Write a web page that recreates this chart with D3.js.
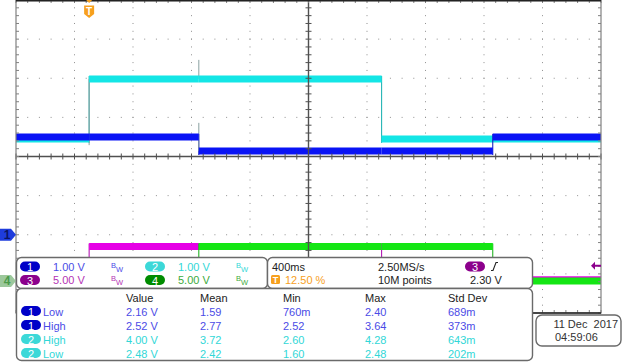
<!DOCTYPE html>
<html><head><meta charset="utf-8">
<script src="https://cdn.jsdelivr.net/npm/d3@7"></script>
<style>body{margin:0;background:#fff}svg{display:block}text{font-family:"Liberation Sans",Arial,sans-serif}</style>
</head><body><svg id="c" width="625" height="363"></svg>
<script>
// ---- data ----
const edgeTimes = [-0.5, 0, 0.75, 2.0, 2.76, 3.5];      // seconds
const ch1Levels = [2.50, 2.50, 2.14, 2.14, 2.50];       // volts per interval
const ch2Levels = [2.45, 3.98, 3.98, 2.45, 2.45];
const ch3Levels = [0.5, 4.75, 4.75, 0.5, 0.5];
const ch4Levels = [0.0, 0.0, 4.4, 4.4, 0.0];
const glitches = [{ch:2, t:0.75, v:4.47}, {ch:2, t:0, v:2.29}, {ch:1, t:0.75, v:2.86}];
const channels = ["1","2","3","4"];
const voltsPerDiv = [1, 1, 5, 5];
const offsetsDiv = [-2, -2, -3.25, -3.18];
const legendScales = ["1.00 V","1.00 V","5.00 V","5.00 V"];
const timebase = "400ms", sampleRate = "2.50MS/s", trigPos = "12.50 %", recLen = "10M points", trigLevel = "2.30 V", trigSrc = "3";
const trigLevelV = 2.30;
const measHeaders = ["Value","Mean","Min","Max","Std Dev"];
const measCh = ["1","1","2","2"];
const measNames = ["Low","High","High","Low"];
const measValue = ["2.16 V","2.52 V","4.00 V","2.48 V"];
const measMean = ["1.59","2.77","3.72","2.42"];
const measMin = ["760m","2.52","2.60","1.60"];
const measMax = ["2.40","3.64","4.28","2.48"];
const measStd = ["689m","373m","643m","202m"];
const dateText = ["11 Dec  2017", "04:59:06"];

// ---- styles ----
const traceColor = ["#0a14f5", "#14e6e6", "#e600e6", "#14e614"];
const badgeColor = ["#0000c8", "#3cd8d8", "#8c008c", "#008c00"];
const textColor = ["#4b4be6", "#32d7d7", "#b432b4", "#3caa3c"];
const bandW = [7, 7, 7, 7];
const orange = "#f7a01e";

const svg = d3.select("#c");
const L = 16, R = 601, T = 0, B = 313;
const x = d3.scaleLinear().domain([-0.5, 3.5]).range([L, R]);
const yd = d3.scaleLinear().domain([-4, 4]).range([B, T]);
const yv = (ci, v) => yd(v / voltsPerDiv[ci] + offsetsDiv[ci]);

// ---- grid ----
const majorT = d3.range(0, 11).map(i => -0.5 + i * 0.4);
const minorT = d3.range(0, 51).map(i => -0.5 + i * 0.08);
const majorD = d3.range(-4, 5);
const minorD = d3.range(0, 41).map(i => -4 + i * 0.2);
const grid = svg.append("g").attr("fill", "#909090");
majorD.filter(d => d > -4 && d < 4 && d !== 0).forEach(d => {
  grid.selectAll(null).data(minorT.slice(1, -1)).enter().append("rect")
    .attr("x", t => x(t) - 0.5).attr("y", yd(d) - 0.5).attr("width", 1).attr("height", 1);
});
majorT.slice(1, -1).filter((t, i) => i !== 4).forEach(t => {
  grid.selectAll(null).data(minorD.slice(1, -1)).enter().append("rect")
    .attr("x", x(t) - 0.5).attr("y", d => yd(d) - 0.5).attr("width", 1).attr("height", 1);
});

// ---- traces ----
const levels = [ch1Levels, ch2Levels, ch3Levels, ch4Levels];
svg.append("clipPath").attr("id", "pc").append("rect").attr("x", L).attr("y", T).attr("width", R - L).attr("height", B - T);
const tr = svg.append("g").attr("clip-path", "url(#pc)");
[2, 3, 1, 0].forEach(ci => {
  const lv = levels[ci];
  const g = tr.append("g");
  lv.forEach((v, i) => {
    if (i > 0 && lv[i - 1] !== v) {
      const y0 = yv(ci, lv[i - 1]), y1 = yv(ci, v);
      const lo = Math.min(y0, y1) - 3, hi = Math.max(y0, y1) + 4;
      g.append("line").attr("x1", x(edgeTimes[i])).attr("x2", x(edgeTimes[i]))
        .attr("y1", lo).attr("y2", hi).attr("stroke", d3.color(traceColor[ci]).darker(0.8)).attr("stroke-width", 1);
    }
  });
  glitches.filter(gl => gl.ch === ci + 1).forEach(gl => {
    const i = edgeTimes.findIndex(t => t >= gl.t);
    const base = yv(ci, lv[Math.max(0, Math.min(lv.length - 1, i))]);
    g.append("line").attr("x1", x(gl.t)).attr("x2", x(gl.t)).attr("y1", base).attr("y2", yv(ci, gl.v))
      .attr("stroke", "#8aa0a0").attr("stroke-width", 1);
  });
  g.selectAll(null).data(lv).enter().append("line")
    .attr("x1", (v, i) => x(edgeTimes[i])).attr("x2", (v, i) => x(edgeTimes[i + 1]))
    .attr("y1", v => yv(ci, v)).attr("y2", v => yv(ci, v))
    .attr("stroke", traceColor[ci]).attr("stroke-width", bandW[ci]);
});

// ---- axes / border ----
const ax = svg.append("g").attr("stroke", "#505050");
ax.append("line").attr("x1", L).attr("x2", R).attr("y1", yd(0)).attr("y2", yd(0)).attr("stroke-width", 1.4);
ax.append("line").attr("x1", x(1.5)).attr("x2", x(1.5)).attr("y1", T).attr("y2", B).attr("stroke-width", 1.4);
ax.selectAll(null).data(minorT).enter().append("line")
  .attr("x1", t => x(t)).attr("x2", t => x(t)).attr("y1", yd(0) - 3).attr("y2", yd(0) + 3).attr("stroke-width", 1);
ax.selectAll(null).data(minorD).enter().append("line")
  .attr("y1", d => yd(d)).attr("y2", d => yd(d)).attr("x1", x(1.5) - 3).attr("x2", x(1.5) + 3).attr("stroke-width", 1);
const bt = svg.append("g").attr("stroke", "#808080").attr("stroke-width", 1);
bt.selectAll(null).data(minorT).enter().append("line")
  .attr("x1", t => x(t)).attr("x2", t => x(t)).attr("y1", T).attr("y2", T + 3);
bt.selectAll(null).data(minorT).enter().append("line")
  .attr("x1", t => x(t)).attr("x2", t => x(t)).attr("y1", B).attr("y2", B - 3);
bt.selectAll(null).data(minorD).enter().append("line")
  .attr("y1", d => yd(d)).attr("y2", d => yd(d)).attr("x1", L).attr("x2", L + 3);
bt.selectAll(null).data(minorD).enter().append("line")
  .attr("y1", d => yd(d)).attr("y2", d => yd(d)).attr("x1", R).attr("x2", R - 3);
svg.append("rect").attr("x", L).attr("y", T + 0.5).attr("width", R - L).attr("height", B - T - 0.5)
  .attr("fill", "none").attr("stroke", "#808080").attr("stroke-width", 1.2);
svg.append("line").attr("x1", L).attr("x2", R).attr("y1", 0.75).attr("y2", 0.75).attr("stroke", "#222").attr("stroke-width", 1.5);
svg.append("line").attr("x1", L).attr("x2", R).attr("y1", B).attr("y2", B).attr("stroke", "#222").attr("stroke-width", 1.5);

// ---- trigger marker (top) ----
const tx = x(0);
svg.append("path").attr("d", `M${tx - 3},0 h6 l-3,3 z`).attr("fill", orange);
svg.append("path").attr("d", `M${tx - 5},5.5 h10 v8.5 l-5,4 l-5,-4 z`).attr("fill", orange);
svg.append("text").attr("x", tx).attr("y", 15).attr("text-anchor", "middle").attr("font-size", 10).attr("font-weight", "bold").attr("fill", "#fff").text("T");

// trigger level marker on right (ch3)
const tly = yv(2, trigLevelV);
svg.append("path").attr("d", `M${R - 10},${tly} l4,-4 v3 h6 v2 h-6 v3 z`).attr("fill", badgeColor[2]);

// ---- channel ground markers (left) ----
function gndMarker(ci, fill, txt) {
  const yy = yv(ci, 0);
  svg.append("path").attr("d", `M0,${yy - 6} h11 l5,6 l-5,6 h-11 z`).attr("fill", fill);
  svg.append("text").attr("x", 7).attr("y", yy + 4.5).attr("text-anchor", "middle").attr("font-size", 12).attr("font-weight", "bold")
    .attr("fill", txt).text(channels[ci]);
}
gndMarker(3, "#9cc89c", "#4a9a4a");
gndMarker(0, "#1e3cdc", "#0a1464");

// ---- boxes ----
function box(x0, y0, w, h, r) {
  svg.append("rect").attr("x", x0).attr("y", y0).attr("width", w).attr("height", h).attr("rx", r)
    .attr("fill", "#fff").attr("stroke", "#6a6a6a").attr("stroke-width", 1.4);
}
function badge(cx, cy, ci) {
  svg.append("rect").attr("x", cx - 10).attr("y", cy - 5).attr("width", 20).attr("height", 10).attr("rx", 5)
    .attr("fill", badgeColor[ci]);
  svg.append("text").attr("x", cx).attr("y", cy + 4.5).attr("text-anchor", "middle").attr("font-size", 11)
    .attr("fill", "#fff").text(channels[ci]);
}
function bw(x0, yb, ci) {
  const t = svg.append("text").attr("x", x0).attr("y", yb).attr("font-size", 7.5).attr("fill", textColor[ci]);
  t.append("tspan").attr("dy", -3).text("B");
  t.append("tspan").attr("dy", 4).text("W");
}
box(16.5, 257.5, 251, 31, 5);
box(267.5, 257.5, 265, 31, 5);
box(16.5, 288.5, 516, 72, 5);
box(536, 315, 85, 31, 6);

// legend 1
const legX = [[30, 53, 111], [155, 178, 236]];
const legY = [266.5, 280];
[0, 1, 2, 3].forEach(ci => {
  const col = ci % 2, row = Math.floor(ci / 2);
  badge(legX[col][0], legY[row], ci);
  svg.append("text").attr("x", legX[col][1]).attr("y", legY[row] + 4).attr("font-size", 11).attr("fill", textColor[ci]).text(legendScales[ci]);
  bw(legX[col][2], legY[row] + 4, ci);
});

// legend 2
svg.append("text").attr("x", 272).attr("y", 270.5).attr("font-size", 11).attr("fill", "#222").text(timebase);
svg.append("text").attr("x", 378).attr("y", 270.5).attr("font-size", 11).attr("fill", "#222").text(sampleRate);
badge(475, 266.5, 2);
svg.append("path").attr("d", "M491,270.5 h2 l3,-8 h2").attr("fill", "none").attr("stroke", "#222").attr("stroke-width", 1.1);
svg.append("rect").attr("x", 271).attr("y", 275).attr("width", 9).attr("height", 9).attr("rx", 1.5).attr("fill", orange);
svg.append("text").attr("x", 275.5).attr("y", 283).attr("text-anchor", "middle").attr("font-size", 9).attr("font-weight", "bold").attr("fill", "#fff").text("T");
svg.append("text").attr("x", 285).attr("y", 284).attr("font-size", 11).attr("fill", orange).text(trigPos);
svg.append("text").attr("x", 378).attr("y", 284).attr("font-size", 11).attr("fill", "#222").text(recLen);
svg.append("text").attr("x", 470).attr("y", 284).attr("font-size", 11).attr("fill", "#222").text(trigLevel);

// measurements
const colX = [126, 200, 283, 365, 448];
measHeaders.forEach((h, i) => svg.append("text").attr("x", colX[i]).attr("y", 301.5).attr("font-size", 11).attr("fill", "#222").text(h));
const rowY = [315.5, 329.5, 343.5, 357.5];
measCh.forEach((c, r) => {
  const ci = channels.indexOf(c);
  badge(31, rowY[r] - 4.5, ci);
  svg.append("text").attr("x", 43).attr("y", rowY[r]).attr("font-size", 11).attr("fill", textColor[ci]).text(measNames[r]);
  [measValue, measMean, measMin, measMax, measStd].forEach((arr, k) => {
    svg.append("text").attr("x", colX[k]).attr("y", rowY[r]).attr("font-size", 11).attr("fill", textColor[ci]).text(arr[r]);
  });
});

// date
svg.append("text").attr("x", 618).attr("y", 327.5).attr("text-anchor", "end").attr("font-size", 11).attr("fill", "#333")
  .attr("xml:space", "preserve").style("white-space", "pre").text(dateText[0]);
svg.append("text").attr("x", 555).attr("y", 341).attr("font-size", 11).attr("fill", "#333").text(dateText[1]);
</script></body></html>
